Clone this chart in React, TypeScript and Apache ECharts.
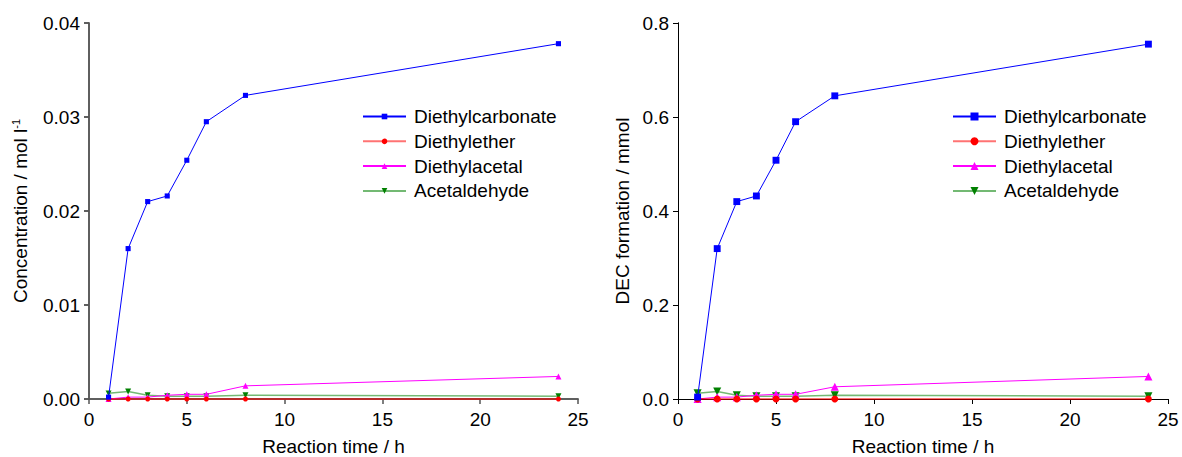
import React, { useEffect, useRef } from "react";
import * as echarts from "echarts";

const timeH = [1, 2, 3, 4, 5, 6, 8, 24];
const xTicks = [0, 5, 10, 15, 20, 25];

// Left panel: concentration / mol l-1
const concDEC = [0.0002, 0.016, 0.021, 0.0216, 0.0254, 0.0295, 0.0323, 0.0378];
const concEther = [0, 0, 0, 0, 0, 0, 0, 0];
const concAcetal = [0, 0.0002, 0.0002, 0.0004, 0.0005, 0.0005, 0.0014, 0.0024];
const concAcetaldehyde = [0.0006, 0.0008, 0.0004, 0.0003, 0.0003, 0.0003, 0.0004, 0.0003];
const concTicks = [0, 0.01, 0.02, 0.03, 0.04];

// Right panel: DEC formation / mmol
const molDEC = [0.004, 0.32, 0.42, 0.432, 0.508, 0.59, 0.645, 0.755];
const molEther = [0, 0, 0, 0, 0, 0, 0, 0];
const molAcetal = [0, 0.004, 0.004, 0.008, 0.01, 0.01, 0.026, 0.048];
const molAcetaldehyde = [0.012, 0.016, 0.008, 0.006, 0.006, 0.006, 0.008, 0.006];
const molTicks = [0, 0.2, 0.4, 0.6, 0.8];

const seriesNames = ["Diethylcarbonate", "Diethylether", "Diethylacetal", "Acetaldehyde"];

const FONT = "'Liberation Sans', Arial, sans-serif";

function pair(xs: number[], ys: number[]) {
  return xs.map((x, i) => [x, ys[i]]);
}

function buildOption(opts: {
  values: number[][];
  ticks: number[];
  decimals: number;
  yName: string;
  yNameGap: number;
  gridLeft: number;
  gridWidth: number;
  legendLeft: number;
  axisColor: string;
  axisWidth: number;
  symScale: number;
  legendIcon: number;
}) {
  const { values, ticks, decimals, symScale } = opts;
  const yMax = ticks[ticks.length - 1];
  const yInt = ticks[1] - ticks[0];
  const axisLine = { show: true, lineStyle: { color: opts.axisColor, width: opts.axisWidth } };
  const label = { color: "#000", fontSize: 19, fontFamily: FONT };
  const styles = [
    { color: "#0000ff", symbol: "rect", size: 6, rotate: 0, lineOpacity: 1, width: 1 },
    { color: "#ff0000", symbol: "circle", size: 6, rotate: 0, lineOpacity: 0.55, width: 2 },
    { color: "#ff00ff", symbol: "triangle", size: 7, rotate: 0, lineOpacity: 1, width: 1 },
    { color: "#008000", symbol: "triangle", size: 7, rotate: 180, lineOpacity: 0.55, width: 1.5 },
  ];
  return {
    animation: false,
    textStyle: { fontFamily: FONT },
    grid: {
      left: opts.gridLeft,
      top: 23,
      width: opts.gridWidth,
      height: 376,
      containLabel: false,
      outerBoundsMode: "none",
    },
    legend: {
      orient: "vertical",
      left: opts.legendLeft,
      top: 107,
      padding: 0,
      itemWidth: 43,
      itemHeight: opts.legendIcon,
      itemGap: 5.8,
      data: seriesNames,
      textStyle: { color: "#000", fontSize: 19, fontFamily: FONT, lineHeight: 18.5, padding: [0, 0, 0, 3] },
    },
    xAxis: [
      {
        type: "value",
        min: 0,
        max: 25,
        interval: 5,
        position: "bottom",
        name: "Reaction time / h",
        nameLocation: "middle",
        nameGap: 38,
        nameTextStyle: { color: "#000", fontSize: 19, fontFamily: FONT, lineHeight: 19 },
        axisLine,
        axisTick: { show: true, inside: false, length: 5, lineStyle: { color: opts.axisColor, width: opts.axisWidth } },
        axisLabel: { ...label, margin: 11, formatter: (v: number) => String(v) },
        splitLine: { show: false },
      },
      {
        type: "value",
        min: 0,
        max: 25,
        interval: 5,
        position: "top",
        axisLine,
        axisTick: { show: false },
        axisLabel: { show: false },
        splitLine: { show: false },
      },
    ],
    yAxis: [
      {
        type: "value",
        min: 0,
        max: yMax,
        interval: yInt,
        position: "left",
        name: opts.yName,
        nameLocation: "middle",
        nameGap: opts.yNameGap,
        nameRotate: 90,
        nameTextStyle: {
          color: "#000",
          fontSize: 19,
          fontFamily: FONT,
          rich: { sup: { fontSize: 11, fontFamily: FONT, color: "#000", padding: [0, 0, 10, 0] } },
        },
        axisLine,
        axisTick: { show: true, inside: false, length: 5, lineStyle: { color: opts.axisColor, width: opts.axisWidth } },
        axisLabel: { ...label, margin: 9, formatter: (v: number) => v.toFixed(decimals) },
        splitLine: { show: false },
      },
      {
        type: "value",
        min: 0,
        max: yMax,
        interval: yInt,
        position: "right",
        axisLine,
        axisTick: { show: true, inside: true, length: 5, lineStyle: { color: opts.axisColor, width: opts.axisWidth } },
        axisLabel: { show: false },
        splitLine: { show: false },
      },
    ],
    series: values.map((vals, i) => ({
      type: "line",
      name: seriesNames[i],
      data: pair(timeH, vals),
      xAxisIndex: 0,
      yAxisIndex: 0,
      symbol: styles[i].symbol,
      symbolSize: styles[i].size * symScale,
      symbolRotate: styles[i].rotate,
      showSymbol: true,
      clip: false,
      z: 10 - i,
      itemStyle: { color: styles[i].color, opacity: 1 },
      lineStyle: { color: styles[i].color, width: styles[i].width, opacity: styles[i].lineOpacity },
      emphasis: { disabled: true },
    })),
  };
}

function Panel({ option, left }: { option: any; left: number }) {
  const ref = useRef<HTMLDivElement>(null);
  useEffect(() => {
    if (!ref.current) return;
    const chart = echarts.init(ref.current, null, { renderer: "svg" });
    chart.setOption(option);
    return () => chart.dispose();
  }, [option]);
  return (
    <div
      ref={ref}
      style={{ position: "absolute", left, top: 0, width: 591, height: 457 }}
    />
  );
}

const leftOption = buildOption({
  values: [concDEC, concEther, concAcetal, concAcetaldehyde],
  ticks: concTicks,
  decimals: 2,
  yName: "Concentration / mol l{sup|-1}",
  yNameGap: 58,
  gridLeft: 89,
  gridWidth: 489,
  legendLeft: 362,
  axisColor: "#555",
  axisWidth: 1.5,
  symScale: 0.85,
  legendIcon: 7,
});

const rightOption = buildOption({
  values: [molDEC, molEther, molAcetal, molAcetaldehyde],
  ticks: molTicks,
  decimals: 1,
  yName: "DEC formation / mmol",
  yNameGap: 45,
  gridLeft: 87,
  gridWidth: 490,
  legendLeft: 361,
  axisColor: "#000",
  axisWidth: 1,
  symScale: 1.15,
  legendIcon: 10,
});

export default function App() {
  return (
    <div style={{ position: "fixed", left: 0, top: 0, width: 1182, height: 457, background: "#fff" }}>
      <Panel option={leftOption} left={0} />
      <Panel option={rightOption} left={591} />
    </div>
  );
}
